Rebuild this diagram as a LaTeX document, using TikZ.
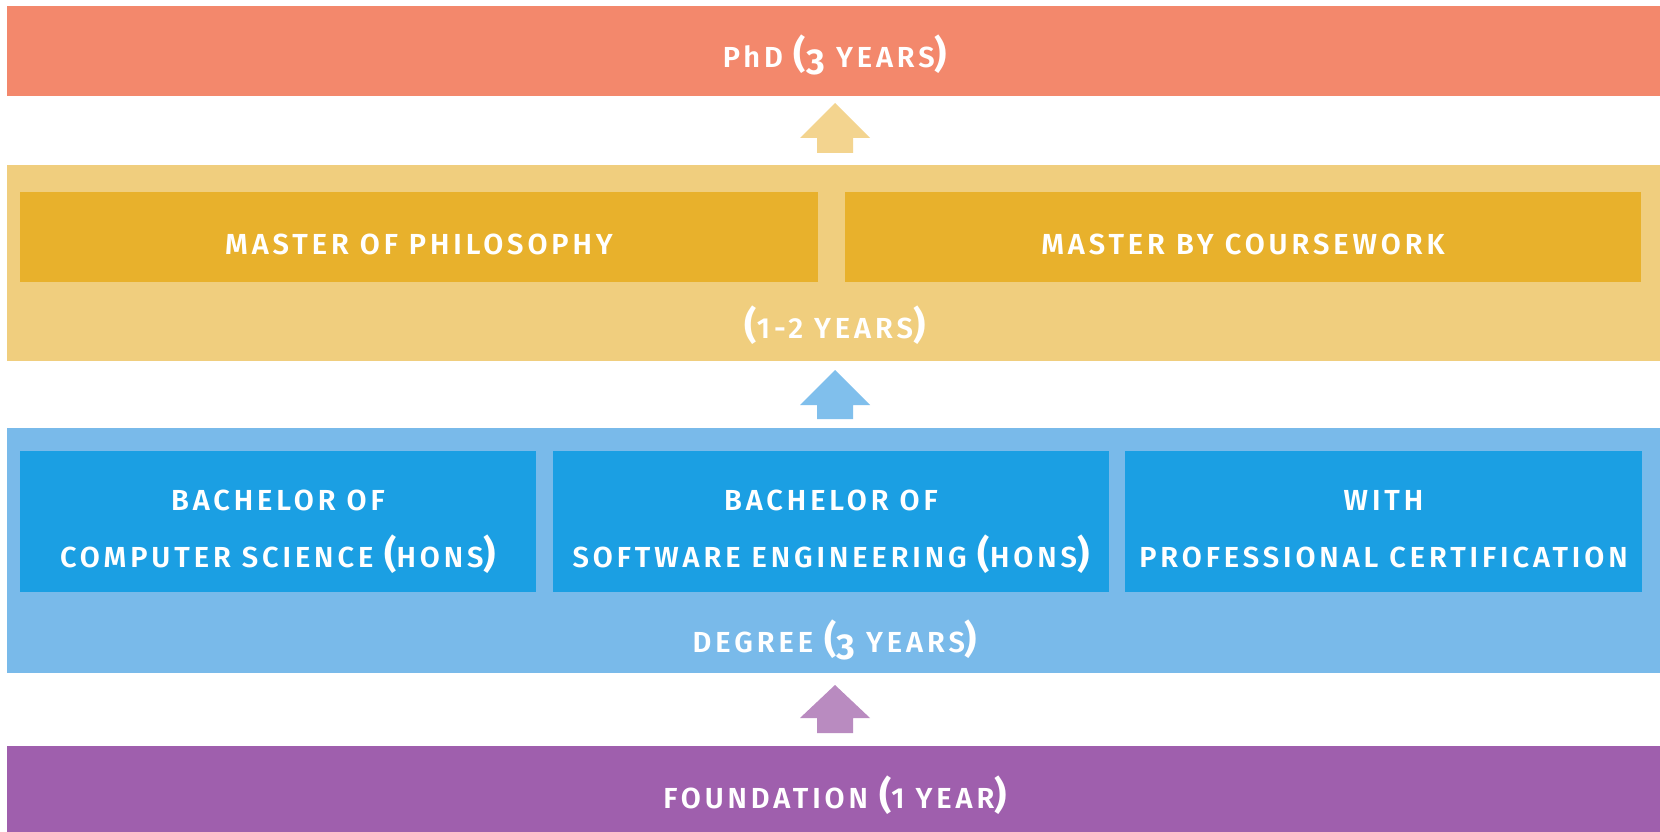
\documentclass[tikz,border=0pt]{standalone}
\usepackage{fontspec}
\setmainfont{Fira Sans}[BoldFont={* SemiBold},BoldFeatures={LetterSpace=13.5}]
\newfontfamily\parfont{Fira Sans}
\newcommand\lp{{\parfont\fontsize{38}{38}\selectfont(}}
\newcommand\rp{{\parfont\fontsize{38}{38}\selectfont)}}
\newcommand\three{\raisebox{-7pt}{\parfont\fontsize{36}{36}\selectfont 3}}
\definecolor{phdc}{HTML}{F3886C}
\definecolor{arra}{HTML}{F3D48F}
\definecolor{mband}{HTML}{F0CE7E}
\definecolor{mbox}{HTML}{E8B12C}
\definecolor{arrb}{HTML}{80BFEC}
\definecolor{dband}{HTML}{79BAEA}
\definecolor{dbox}{HTML}{1B9FE3}
\definecolor{arrc}{HTML}{B98BC0}
\definecolor{fband}{HTML}{9F5FAD}
\tikzset{
  rect/.style={draw=none,inner sep=0pt,outer sep=0pt,anchor=north west},
  lbl/.style={text=white,font=\bfseries\fontsize{29}{57}\selectfont,anchor=base,inner sep=0pt,align=center}
}
\newcommand\uparr[4]{% tip coordinate name, color, head height, shaft length
  \fill[#2] (#1) -- ++(35,#3) -- ++(-17,0) -- ++(0,#4) -- ++(-36,0) -- ++(0,-#4) -- ++(-17,0) -- cycle;}
\begin{document}
\begin{tikzpicture}[x=1pt,y=-1pt]
\useasboundingbox (0,0) rectangle (1660,832);
\fill[white] (0,0) rectangle (1660,832);
% bands
\node[rect,fill=phdc,minimum width=1653pt,minimum height=90pt] (phd) at (7,6) {};
\node[rect,fill=mband,minimum width=1653pt,minimum height=196pt] (mst) at (7,165) {};
\node[rect,fill=dband,minimum width=1653pt,minimum height=245pt] (deg) at (7,428) {};
\node[rect,fill=fband,minimum width=1653pt,minimum height=86pt] (fnd) at (7,746) {};
% inner boxes
\node[rect,fill=mbox,minimum width=798pt,minimum height=90pt] (mphil) at (20,192) {};
\node[rect,fill=mbox,minimum width=796pt,minimum height=90pt] (mcw) at (845,192) {};
\node[rect,fill=dbox,minimum width=516pt,minimum height=141pt] (bcs) at (20,451) {};
\node[rect,fill=dbox,minimum width=556pt,minimum height=141pt] (bse) at (553,451) {};
\node[rect,fill=dbox,minimum width=517pt,minimum height=141pt] (bpc) at (1125,451) {};
% arrows
\coordinate (ta) at (835,103);
\coordinate (tb) at (835,370);
\coordinate (tc) at (835,685);
\uparr{ta}{arra}{35}{15}
\uparr{tb}{arrb}{35}{14}
\uparr{tc}{arrc}{33}{15}
% labels
\node[lbl] (tphd) at (835,68) {PhD \lp\three\ YEARS\rp};
\node[lbl] (tmphil) at (419,254) {MASTER OF PHILOSOPHY};
\node[lbl] (tmcw) at (1243,254) {MASTER BY COURSEWORK};
\node[lbl] (tmyr) at (835,338) {\lp 1-2 YEARS\rp};
\node[lbl] (tbcs) at (278,567) {BACHELOR OF\\COMPUTER SCIENCE \lp HONS\rp};
\node[lbl] (tbse) at (831,567) {BACHELOR OF\\SOFTWARE ENGINEERING \lp HONS\rp};
\node[lbl] (tbpc) at (1383.5,567) {WITH\\PROFESSIONAL CERTIFICATION};
\node[lbl] (tdeg) at (835,652) {DEGREE \lp\three\ YEARS\rp};
\node[lbl] (tfnd) at (835,808) {FOUNDATION \lp 1 YEAR\rp};
\end{tikzpicture}
\end{document}
